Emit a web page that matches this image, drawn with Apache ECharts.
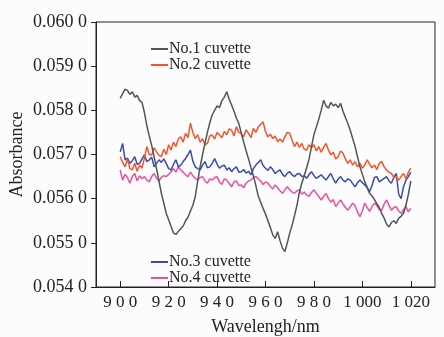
<!DOCTYPE html>
<html>
<head>
<meta charset="utf-8">
<script src="https://cdn.jsdelivr.net/npm/echarts@6/dist/echarts.min.js"></script>
<style>
html,body{margin:0;padding:0;background:#fcfcfc;}
#main{width:444px;height:337px;}
</style>
</head>
<body>
<div id="main"></div>
<script>
// wavelength start / step (nm)
var wlStart = 900;
var wlStep = 1;
var xTicks = [900, 920, 940, 960, 980, 1000, 1020];

var cuvette1 = [
 .05827,.05838,.05848,.05845,.05836,.05842,.05830,.05834,.05822,.05818,
 .05795,.05765,.05742,.05720,.05695,.05668,.05640,.05612,.05590,.05567,
 .05552,.05537,.05522,.05519,.05526,.05532,.05538,.05550,.05558,.05572,
 .05585,.05605,.05640,.05672,.05700,.05725,.05750,.05772,.05790,.05800,
 .05810,.05806,.05822,.05830,.05842,.05825,.05812,.05798,.05782,.05770,
 .05748,.05728,.05708,.05690,.05670,.05652,.05630,.05606,.05592,.05578,
 .05565,.05550,.05535,.05518,.05510,.05525,.05505,.05488,.05480,.05500,
 .05522,.05540,.05562,.05585,.05615,.05635,.05652,.05670,.05690,.05718,
 .05745,.05762,.05780,.05800,.05823,.05810,.05805,.05818,.05810,.05814,
 .05806,.05816,.05798,.05784,.05770,.05755,.05736,.05718,.05695,.05672,
 .05655,.05638,.05625,.05612,.05606,.05598,.05588,.05580,.05566,.05556,
 .05542,.05536,.05546,.05550,.05544,.05556,.05560,.05567,.05585,.05610,
 .05640
];
var cuvette2 = [
 .05695,.05682,.05672,.05690,.05668,.05665,.05680,.05662,.05676,.05669,
 .05692,.05718,.05700,.05699,.05715,.05706,.05698,.05695,.05712,.05700,
 .05722,.05710,.05728,.05718,.05735,.05740,.05728,.05748,.05738,.05771,
 .05750,.05736,.05745,.05728,.05736,.05722,.05725,.05742,.05744,.05735,
 .05750,.05744,.05738,.05752,.05745,.05758,.05755,.05742,.05763,.05750,
 .05748,.05740,.05756,.05748,.05738,.05759,.05750,.05762,.05768,.05774,
 .05752,.05740,.05746,.05736,.05742,.05729,.05735,.05728,.05740,.05750,
 .05748,.05732,.05718,.05728,.05716,.05725,.05712,.05710,.05722,.05715,
 .05722,.05708,.05718,.05705,.05716,.05725,.05710,.05699,.05705,.05690,
 .05695,.05708,.05703,.05690,.05680,.05688,.05676,.05684,.05672,.05680,
 .05669,.05676,.05688,.05678,.05670,.05676,.05666,.05680,.05684,.05672,
 .05665,.05660,.05657,.05648,.05650,.05642,.05650,.05657,.05645,.05660,
 .05669
];
var cuvette3 = [
 .05706,.05725,.05688,.05692,.05680,.05686,.05695,.05678,.05680,.05690,
 .05699,.05684,.05688,.05694,.05672,.05680,.05688,.05682,.05690,.05680,
 .05668,.05665,.05678,.05688,.05672,.05676,.05684,.05691,.05700,.05710,
 .05685,.05672,.05668,.05665,.05676,.05684,.05670,.05672,.05680,.05691,
 .05678,.05669,.05674,.05676,.05665,.05670,.05661,.05668,.05672,.05660,
 .05661,.05666,.05658,.05662,.05654,.05668,.05676,.05682,.05688,.05675,
 .05669,.05664,.05672,.05666,.05657,.05662,.05665,.05655,.05650,.05658,
 .05661,.05654,.05650,.05656,.05657,.05650,.05652,.05646,.05655,.05661,
 .05652,.05646,.05650,.05654,.05648,.05642,.05650,.05657,.05645,.05635,
 .05644,.05650,.05642,.05638,.05645,.05642,.05634,.05627,.05636,.05642,
 .05636,.05631,.05625,.05616,.05630,.05648,.05650,.05638,.05642,.05646,
 .05650,.05640,.05635,.05648,.05657,.05610,.05600,.05627,.05642,.05650,
 .05660
];
var cuvette4 = [
 .05665,.05642,.05655,.05648,.05635,.05650,.05657,.05640,.05652,.05645,
 .05650,.05642,.05638,.05650,.05657,.05646,.05640,.05648,.05652,.05650,
 .05655,.05661,.05668,.05660,.05672,.05665,.05660,.05654,.05650,.05660,
 .05652,.05646,.05642,.05648,.05650,.05640,.05635,.05645,.05642,.05648,
 .05650,.05638,.05632,.05645,.05642,.05635,.05627,.05638,.05640,.05630,
 .05631,.05625,.05635,.05640,.05642,.05648,.05650,.05645,.05640,.05632,
 .05638,.05635,.05628,.05622,.05631,.05625,.05618,.05612,.05620,.05627,
 .05620,.05615,.05612,.05618,.05620,.05610,.05615,.05608,.05605,.05614,
 .05620,.05612,.05605,.05597,.05605,.05612,.05600,.05592,.05598,.05582,
 .05590,.05597,.05588,.05580,.05574,.05582,.05590,.05584,.05570,.05559,
 .05572,.05590,.05580,.05571,.05582,.05590,.05584,.05575,.05574,.05588,
 .05597,.05585,.05574,.05580,.05582,.05572,.05567,.05575,.05582,.05570,
 .05578
];

var names = ["No.1 cuvette","No.2 cuvette","No.3 cuvette","No.4 cuvette"];
var colors = ["#4d5759","#f2552c","#3c4aab","#ee4f9c"];

function pairs(arr){
    var out = [];
    for(var i=0;i<arr.length;i++){
        out.push([wlStart+i*wlStep, arr[i]]);
    }
    return out;
}

var serif = "'Liberation Serif','DejaVu Serif',serif";
var chart = echarts.init(document.getElementById("main"));

var option = {
    backgroundColor: '#fcfcfc',
    animation: false,
    grid: {
        left: 96, right: 9, top: 22, bottom: 50,
        outerBoundsMode: 'none',
        show: true, borderColor: '#222', borderWidth: 1
    },
    legend: [{
        data: [names[0], names[1]],
        orient: 'vertical',
        left: 146, top: 36,
        itemWidth: 17, itemHeight: 2, itemGap: 0,
        icon: 'rect',
        textStyle: {fontFamily: serif, fontSize: 16, color: '#222', padding: [0,0,0,-4]}
    },{
        data: [names[2], names[3]],
        orient: 'vertical',
        left: 146, top: 249,
        itemWidth: 17, itemHeight: 2, itemGap: 0,
        icon: 'rect',
        textStyle: {fontFamily: serif, fontSize: 16, color: '#222', padding: [0,0,0,-4]}
    }],
    xAxis: {
        type: 'value',
        min: 890, max: 1030,
        name: 'Wavelengh/nm',
        nameLocation: 'middle',
        nameGap: 31,
        nameTextStyle: {fontFamily: serif, fontSize: 18, color: '#222'},
        axisLine: {lineStyle: {color: '#222'}},
        axisTick: {inside: true, length: 6, customValues: xTicks, lineStyle: {color: '#222'}},
        axisLabel: {
            customValues: xTicks,
            hideOverlap: false,
            fontFamily: serif, fontSize: 17, color: '#222', margin: 7,
            formatter: function(v){
                var s = String(v);
                if(s.length > 3) return s[0] + ' ' + s.slice(1);
                return s.split('').join(' ');
            }
        },
        splitLine: {show: false}
    },
    yAxis: {
        type: 'value',
        min: 0.054, max: 0.060, interval: 0.001,
        name: 'Absorbance',
        nameLocation: 'middle',
        nameGap: 70,
        nameMoveOverlap: false,
        nameTextStyle: {fontFamily: serif, fontSize: 18, color: '#222'},
        axisLine: {lineStyle: {color: '#222'}},
        axisTick: {inside: false, length: 5, lineStyle: {color: '#222'}},
        axisLabel: {
            fontFamily: serif, fontSize: 18, color: '#222', margin: 9,
            formatter: function(v){ return v.toFixed(3) + ' 0'; }
        },
        splitLine: {show: false}
    },
    series: [
        {name: names[3], type: 'line', data: pairs(cuvette4), color: colors[3]},
        {name: names[2], type: 'line', data: pairs(cuvette3), color: colors[2]},
        {name: names[1], type: 'line', data: pairs(cuvette2), color: colors[1]},
        {name: names[0], type: 'line', data: pairs(cuvette1), color: colors[0]}
    ].map(function(s){
        s.symbol = 'none';
        s.lineStyle = {width: 1.5};
        return s;
    })
};
chart.setOption(option);
</script>
</body>
</html>
